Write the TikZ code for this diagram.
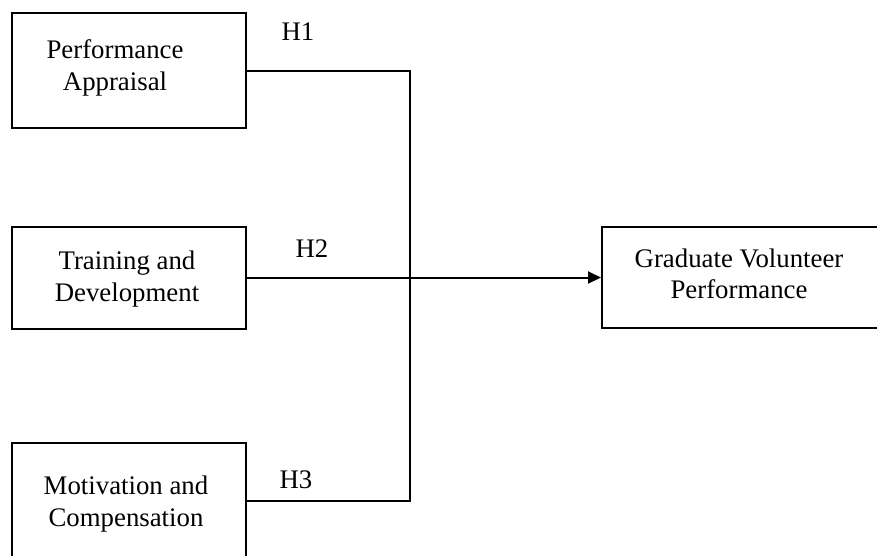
\documentclass[tikz,border=0pt]{standalone}
\usepackage{fontspec}
\setmainfont{Liberation Serif}
\usetikzlibrary{arrows.meta}
\begin{document}
\begin{tikzpicture}[x=1pt,y=-1pt,
  box/.style={draw,line width=2pt,inner sep=0pt,minimum width=234pt},
  txt/.style={align=center,inner sep=0pt,font=\fontsize{26.8}{31.5}\selectfont},
  hlab/.style={inner sep=0pt,font=\fontsize{26.8}{31.5}\selectfont},
  conn/.style={line width=2pt}]
\useasboundingbox (0,0) rectangle (877,555);
\node[box,minimum height=115pt] (b1) at (129,70.5) {};
\node[box,minimum height=102pt] (b2) at (129,277.5) {};
\node[box,minimum height=115pt] (b3) at (129,500.5) {};
\node[box,minimum width=278pt,minimum height=101pt] (g) at (741,277.5) {};
\node[txt] (t1) at (115,68) {Performance\\Appraisal};
\node[txt] (t2) at (127,279) {Training and\\Development};
\node[txt] (t3) at (126,504) {Motivation and\\Compensation};
\node[txt] (t4) at (739,274) {Graduate Volunteer\\Performance};
\node[hlab] (h1) at (298,32) {H1};
\node[hlab] (h2) at (312,249) {H2};
\node[hlab] (h3) at (296,480) {H3};
\coordinate (j) at (410,277.5);
\draw[conn] (b1.east) -| (j);
\draw[conn] (b3.east) -| (j);
\draw[conn,-{Triangle[length=13pt,width=12pt]}] (b2.east) -- (g.west);
\end{tikzpicture}
\end{document}
